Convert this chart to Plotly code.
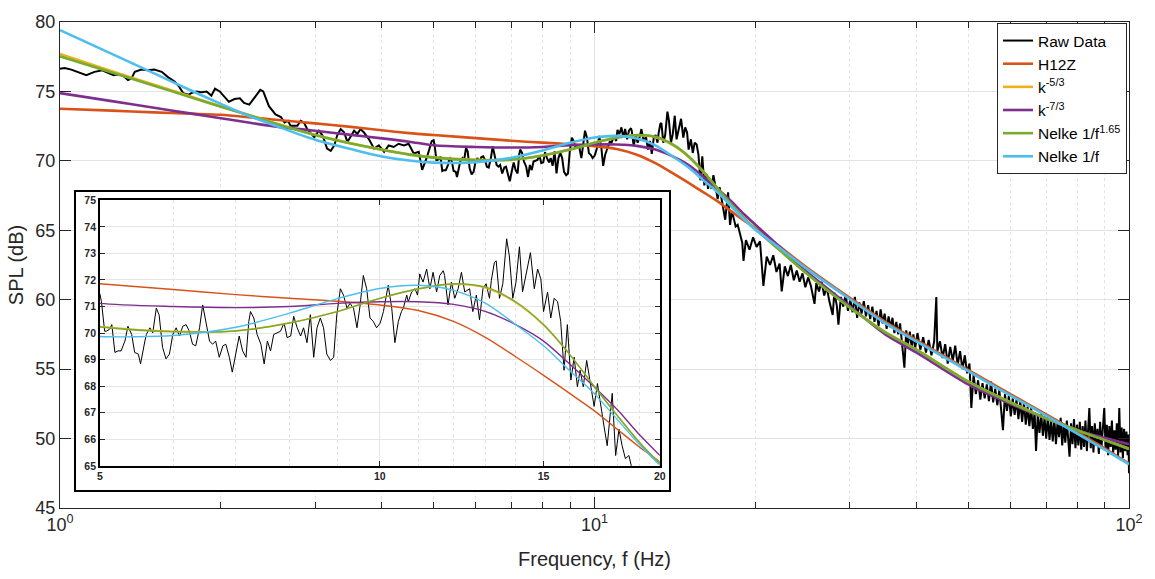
import plotly.graph_objects as go

# ---------------- data ----------------
raw_f = [
    1.00, 1.02, 1.05, 1.08, 1.12, 1.16, 1.20, 1.23, 1.26, 1.28, 1.31, 1.34, 1.36, 1.38, 1.42, 1.46,
    1.50, 1.55, 1.59, 1.64, 1.67, 1.70, 1.74, 1.76, 1.80, 1.84, 1.88, 1.92, 1.95, 1.99, 2.03, 2.07,
    2.12, 2.17, 2.21, 2.26, 2.31, 2.37, 2.40, 2.46, 2.53, 2.59, 2.63, 2.67, 2.70, 2.78, 2.82, 2.86,
    2.90, 2.95, 2.99, 3.05, 3.10, 3.16, 3.21, 3.26, 3.30, 3.35, 3.40, 3.45, 3.50, 3.55, 3.60, 3.65,
    3.70, 3.78, 3.87, 3.95, 4.04, 4.12, 4.21, 4.30, 4.40, 4.49, 4.59, 4.69, 4.76, 4.86, 4.96,
    5.00, 5.02, 5.06, 5.08, 5.12, 5.15, 5.19, 5.23, 5.27, 5.32, 5.36, 5.41, 5.45, 5.50, 5.53, 5.59,
    5.61, 5.66, 5.70, 5.75, 5.79, 5.84, 5.89, 5.94, 5.99, 6.04, 6.09, 6.14, 6.19, 6.24, 6.29, 6.34,
    6.40, 6.45, 6.50, 6.56, 6.61, 6.66, 6.72, 6.78, 6.83, 6.89, 6.94, 7.00, 7.06, 7.12, 7.18, 7.23,
    7.26, 7.32, 7.38, 7.45, 7.51, 7.57, 7.63, 7.69, 7.76, 7.82, 7.89, 7.95, 8.02, 8.08, 8.15, 8.22,
    8.28, 8.35, 8.42, 8.49, 8.56, 8.63, 8.70, 8.77, 8.85, 8.92, 8.99, 9.07, 9.14, 9.22, 9.29, 9.37,
    9.45, 9.52, 9.60, 9.68, 9.76, 9.84, 9.92,
    10.01, 10.09, 10.17, 10.21, 10.30, 10.38, 10.47, 10.55, 10.60, 10.69, 10.73, 10.82, 10.91, 10.98,
    11.04, 11.13, 11.23, 11.32, 11.41, 11.51, 11.60, 11.70, 11.74, 11.84, 11.94, 12.04, 12.14, 12.24,
    12.34, 12.49, 12.59, 12.70, 12.80, 12.91, 13.01, 13.12, 13.18, 13.28, 13.34, 13.45, 13.56, 13.69,
    13.78, 13.90, 14.01, 14.13, 14.24, 14.36, 14.52, 14.66, 14.78, 14.90, 15.00, 15.15, 15.27, 15.40,
    15.53, 15.65, 15.78, 15.91, 16.05, 16.18, 16.31, 16.42, 16.55, 16.69, 16.86, 17.00, 17.14, 17.28,
    17.42, 17.56, 17.78, 17.93, 18.08, 18.22, 18.37, 18.53, 18.68,
    18.9, 19.0, 19.2, 19.5, 19.8, 20.1, 20.4, 20.7, 21.0, 21.3, 21.6, 21.9, 22.2, 22.4, 22.7, 23.0,
    23.3, 23.6, 23.9, 24.2, 24.5, 24.8, 25.1, 25.4, 25.8, 26.0, 26.3, 26.6, 26.9, 27.2, 27.5, 27.9,
    28.1, 28.4, 28.6, 28.9, 29.2, 29.5, 29.8, 30.1, 30.4, 30.7, 31.0, 31.3, 31.6, 31.9, 32.2, 32.5,
    32.8, 33.1, 33.4, 33.7, 34.0, 34.3, 34.6, 34.9, 35.2, 35.5, 35.8, 36.1, 36.4, 36.7, 37.0, 37.3,
    37.6, 38.0, 38.3, 38.6, 38.9, 39.2, 39.5, 39.8,
    40.2, 40.7, 41.2, 41.7, 42.2, 42.7, 43.2, 43.6, 43.8, 44.3, 44.8, 45.3, 45.8, 46.3, 46.8, 47.3,
    47.8, 48.3, 48.8, 49.3, 49.8, 50.3, 50.7, 51.2, 51.7, 52.2, 52.7, 53.2, 53.7, 54.2, 54.7, 55.2,
    55.7, 56.2, 56.7, 57.2, 57.7, 58.1, 58.6, 59.1, 59.6, 60.1, 60.6, 61.1, 61.6, 62.1, 62.6, 63.1,
    63.6, 64.1, 64.6, 65.1, 65.6, 66.1, 66.6, 67.0, 67.5, 68.0, 68.5, 69.0, 69.5, 70.0, 70.5, 71.0,
    71.5, 72.0, 72.5, 73.0, 73.5, 74.0, 74.5, 75.0, 75.5, 76.0, 76.5, 77.0, 77.4, 77.9, 78.4, 78.9,
    79.4, 79.9, 80.4, 80.9, 81.4, 81.9, 82.4, 82.9, 83.4, 83.9, 84.3, 84.8, 85.3, 85.8, 86.3, 86.8,
    87.3, 87.8, 88.3, 88.8, 89.3, 89.9, 90.4, 90.9, 91.4, 91.9, 92.4, 92.9, 93.4, 93.9, 94.4, 94.9,
    95.4, 95.9, 96.4, 96.9, 97.4, 97.9, 98.4, 98.9, 99.4, 99.8, 100.0,
]
raw_db = [
    76.64, 76.69, 76.57, 76.41, 76.17, 76.41, 76.52, 76.34, 76.17, 76.22, 76.17, 75.82, 75.94, 76.41, 76.57, 76.52,
    76.57, 76.41, 76.05, 75.70, 75.35, 74.88, 74.76, 74.88, 75.00, 74.95, 75.00, 74.70, 75.20, 75.00, 74.64, 74.25,
    74.45, 74.50, 74.17, 74.05, 74.53, 75.11, 75.00, 73.94, 73.35, 73.16, 72.76, 72.88, 72.53, 72.53, 72.88, 72.76,
    72.29, 71.94, 71.70, 72.17, 71.82, 70.88, 70.72, 71.11, 71.82, 72.29, 72.06, 71.35, 71.82, 72.17, 71.94, 72.29,
    72.06, 71.59, 70.88, 71.11, 70.65, 71.11, 71.00, 71.23, 71.11, 71.23, 70.53, 70.65, 69.35, 70.29, 71.42,
    71.49, 71.18, 70.07, 70.07, 70.14, 70.32, 69.27, 69.33, 69.33, 69.70, 70.26, 69.95, 69.27, 69.21, 68.84, 69.70,
    69.95, 70.20, 70.01, 70.94, 70.69, 69.46, 69.03, 69.21, 69.95, 70.20, 69.89, 70.26, 70.32, 70.07, 69.58, 69.52,
    70.20, 71.06, 70.44, 69.70, 69.58, 69.70, 69.09, 69.52, 69.58, 69.09, 68.53, 69.21, 69.89, 69.33, 69.09, 70.44,
    70.81, 70.57, 69.95, 69.58, 68.84, 69.70, 69.33, 69.95, 70.01, 70.07, 70.38, 69.83, 69.89, 70.63, 70.20, 69.89,
    70.20, 69.64, 70.69, 69.09, 70.20, 70.57, 70.20, 69.21, 68.97, 69.09, 70.69, 71.67, 71.43, 70.94, 71.12, 70.94,
    70.20, 71.00, 72.17, 71.67, 70.57, 70.44, 70.20,
    70.38, 70.81, 71.43, 71.80, 70.94, 69.64, 70.44, 70.81, 70.94, 71.43, 71.18, 71.55, 71.67, 71.43,
    72.23, 71.92, 72.41, 71.67, 72.29, 71.55, 72.17, 72.35, 72.17, 71.06, 71.92, 71.31, 71.67, 72.29,
    71.55, 71.67, 70.81, 71.43, 70.50, 71.67, 71.86, 71.31, 71.98, 72.66, 72.72, 71.31, 71.86, 73.55,
    72.91, 71.31, 71.92, 73.25, 71.55, 72.17, 73.03, 71.67, 72.41, 72.04, 70.81, 71.55, 70.57, 71.31,
    71.18, 70.44, 68.60, 70.32, 68.23, 69.09, 67.98, 68.60, 67.98, 68.97, 68.10, 67.24, 68.10, 67.24,
    66.50, 65.76, 67.73, 65.39, 66.38, 65.76, 65.27, 65.39, 64.90,
    64.1, 62.8, 64.3, 63.6, 64.5, 63.8, 64.2, 61.0, 63.1, 62.5, 63.2, 62.0, 62.6, 60.6, 62.4, 61.7,
    62.5, 61.4, 62.1, 61.3, 61.9, 60.9, 61.6, 61.0, 59.7, 61.2, 60.6, 61.3, 60.3, 60.9, 59.9, 58.9,
    60.5, 59.6, 58.2, 60.2, 59.5, 60.4, 59.2, 60.0, 59.1, 60.2, 58.7, 59.8, 59.0, 59.9, 58.8, 59.6,
    58.6, 59.5, 58.4, 59.2, 58.1, 59.3, 58.3, 59.0, 57.9, 58.8, 58.0, 58.7, 57.6, 58.4, 57.5, 58.3,
    57.0, 55.1, 57.8, 56.8, 57.7, 56.6, 57.5, 56.5,
    57.6, 56.4, 57.3, 56.2, 57.1, 56.0, 57.0, 60.2, 56.3, 57.0, 55.8, 56.8, 55.4, 56.6, 55.6, 56.7,
    55.3, 56.3, 55.0, 56.0, 54.7, 55.4, 52.2, 54.6, 53.2, 54.2, 52.8, 54.0, 52.9, 53.9, 52.7, 54.1,
    52.6, 53.6, 52.4, 53.5, 51.9, 50.6, 53.2, 52.0, 53.1, 51.6, 52.9, 51.7, 52.8, 51.4, 52.7, 51.2,
    52.6, 51.0, 52.3, 50.9, 52.2, 50.7, 51.9, 49.1, 51.7, 50.4, 51.8, 50.2, 51.5, 50.0, 51.6, 49.9,
    51.3, 49.8, 51.4, 49.6, 51.2, 50.1, 51.5, 49.5, 51.0, 49.7, 51.3, 49.4, 48.7, 51.1, 49.6, 51.4,
    49.3, 51.0, 49.5, 51.2, 49.2, 50.9, 49.4, 51.3, 49.1, 50.8, 52.2, 49.3, 50.9, 49.0, 51.1, 49.5,
    50.7, 48.9, 51.2, 49.3, 50.8, 52.2, 49.2, 51.0, 48.8, 50.9, 49.4, 51.3, 48.9, 50.6, 49.2, 51.1,
    48.7, 52.2, 49.0, 50.8, 48.6, 50.7, 49.1, 50.5, 48.8, 50.3, 47.5,
]

curve_f = [1, 1.25, 1.5, 1.75, 2, 2.25, 2.5, 3, 3.5, 4, 4.5, 5, 6, 7, 8, 9, 10, 11, 12, 13, 14,
           15, 16, 17, 18, 19, 20, 22, 25, 30, 35, 40, 50, 60, 70, 80, 90, 100]
h12z = [73.75, 73.62, 73.49, 73.40, 73.32, 73.15, 72.98, 72.70, 72.45, 72.20, 72.00, 71.86, 71.64,
        71.45, 71.31, 71.20, 71.06, 70.85, 70.44, 69.83, 69.11, 68.41, 67.73, 67.08, 66.38, 65.72,
        65.15, 63.95, 62.30, 60.15, 58.40, 57.10, 54.95, 53.20, 51.75, 50.45, 49.30, 48.20]
k53 = [77.70, 76.45, 75.48, 74.65, 73.93, 73.32, 72.77, 71.88, 71.27, 70.82, 70.47, 70.25, 70.07,
       70.09, 70.39, 70.82, 71.31, 71.66, 71.84, 71.70, 71.15, 70.30, 69.20, 68.00, 66.90, 65.90,
       65.10, 63.72, 61.87, 59.47, 57.67, 56.42, 54.12, 52.62, 51.47, 50.62, 49.92, 49.27]
k73 = [74.88, 74.30, 73.82, 73.42, 73.07, 72.76, 72.50, 72.17, 71.87, 71.62, 71.38, 71.12, 71.00,
       70.96, 71.00, 71.12, 71.18, 71.18, 71.08, 70.81, 70.32, 69.70, 68.84, 67.98, 67.12, 66.19,
       65.40, 63.95, 62.00, 59.55, 57.50, 56.20, 53.90, 52.50, 51.45, 50.60, 50.05, 49.60]
nelke165 = [77.53, 76.36, 75.41, 74.60, 73.90, 73.30, 72.75, 71.87, 71.25, 70.80, 70.45, 70.23, 70.05,
            70.08, 70.38, 70.81, 71.31, 71.67, 71.86, 71.73, 71.18, 70.32, 69.20, 68.00, 66.90, 65.90,
            65.09, 63.70, 61.85, 59.45, 57.65, 56.40, 54.10, 52.60, 51.45, 50.60, 49.90, 49.25]
nelke1 = [79.41, 77.70, 76.30, 75.10, 74.10, 73.25, 72.60, 71.52, 70.85, 70.32, 70.02, 69.87, 69.91,
          70.22, 70.75, 71.30, 71.68, 71.80, 71.61, 71.12, 70.32, 69.52, 68.59, 67.73, 66.75, 65.82,
          65.03, 63.85, 62.20, 60.05, 58.30, 57.00, 54.85, 53.10, 51.65, 50.35, 49.20, 48.15]

series_names = ["H12Z", "k<sup>-5/3</sup>", "k<sup>-7/3</sup>", "Nelke 1/f<sup>1.65</sup>", "Nelke 1/f"]
series_vals = [h12z, k53, k73, nelke165, nelke1]
series_colors = ["#D95319", "#EDB120", "#7E2F8E", "#77AC30", "#4DBEEE"]

main_ticks = [1, 10, 100]
main_ticktext = ["10<sup>0</sup>", "10<sup>1</sup>", "10<sup>2</sup>"]
main_minor = [2, 3, 4, 5, 6, 7, 8, 9, 20, 30, 40, 50, 60, 70, 80, 90]
inset_ticks = [5, 10, 15, 20]
inset_minor = [6, 7, 8, 9, 11, 12, 13, 14, 16, 17, 18, 19]

FONT = "Liberation Sans, Arial, Helvetica, sans-serif"
AXC = "#262626"

fig = go.Figure()

# main traces
fig.add_trace(go.Scatter(x=raw_f, y=raw_db, mode="lines", name="Raw Data",
                         line=dict(color="black", width=2.0), xaxis="x", yaxis="y"))
for nm, vals, col in zip(series_names, series_vals, series_colors):
    fig.add_trace(go.Scatter(x=curve_f, y=vals, mode="lines", name=nm,
                             line=dict(color=col, width=2.6, shape="spline", smoothing=0.8),
                             xaxis="x", yaxis="y"))

# dummy subplot for the inset's white framed box
fig.add_trace(go.Scatter(x=[], y=[], xaxis="x2", yaxis="y2", showlegend=False, hoverinfo="skip"))

# inset traces
fig.add_trace(go.Scatter(x=raw_f, y=raw_db, mode="lines", showlegend=False,
                         line=dict(color="black", width=1.0), xaxis="x3", yaxis="y3"))
for nm, vals, col in zip(series_names, series_vals, series_colors):
    fig.add_trace(go.Scatter(x=curve_f, y=vals, mode="lines", showlegend=False,
                             line=dict(color=col, width=1.4, shape="spline", smoothing=0.8),
                             xaxis="x3", yaxis="y3"))

W, H = 1155, 579
L, R, T, B = 60, 22, 16, 67
pw, ph = W - L - R, H - T - B


def px_to_dom_x(a, b):
    return [(a - L) / pw, (b - L) / pw]


def px_to_dom_y(top, bottom):
    return [(H - B - bottom) / ph, (H - B - top) / ph]


fig.update_layout(
    width=W, height=H, autosize=False,
    margin=dict(l=L, r=R, t=T, b=B),
    paper_bgcolor="white", plot_bgcolor="white",
    font=dict(family=FONT, color=AXC),
    showlegend=True,
    legend=dict(x=(1131 - L) / pw, xanchor="right", y=(H - B - 17) / ph, yanchor="top",
                bgcolor="white", bordercolor=AXC, borderwidth=1,
                font=dict(size=15.5, color="#000000", family=FONT),
                tracegroupgap=0, itemwidth=30),
    xaxis=dict(type="log", range=[0, 2], domain=[0, 1], anchor="y",
               tickmode="array", tickvals=main_ticks, ticktext=main_ticktext,
               tickfont=dict(size=18, color=AXC),
               ticks="inside", ticklen=11, tickcolor=AXC,
               showline=True, linecolor=AXC, linewidth=1, mirror="ticks",
               showgrid=True, gridcolor="#e3e3e3", gridwidth=1, zeroline=False,
               minor=dict(tickmode="array", tickvals=main_minor, ticks="inside", ticklen=6,
                          tickcolor=AXC, showgrid=True, gridcolor="#e2e2e2", griddash="dot"),
               title=dict(text="Frequency, f (Hz)", font=dict(size=20, color=AXC), standoff=18)),
    yaxis=dict(range=[45, 80], domain=[0, 1], anchor="x", dtick=5, tick0=45,
               tickfont=dict(size=18, color=AXC),
               ticks="inside", ticklen=11, tickcolor=AXC,
               showline=True, linecolor=AXC, linewidth=1, mirror="ticks",
               showgrid=True, gridcolor="#e3e3e3", zeroline=False,
               title=dict(text="SPL (dB)", font=dict(size=20, color=AXC), standoff=6)),
    xaxis2=dict(domain=px_to_dom_x(76, 671), anchor="y2", range=[0, 1],
                showline=True, linecolor="black", linewidth=2, mirror=True,
                showgrid=False, zeroline=False, showticklabels=False, ticks=""),
    yaxis2=dict(domain=px_to_dom_y(190, 494), anchor="x2", range=[0, 1],
                showline=True, linecolor="black", linewidth=2, mirror=True,
                showgrid=False, zeroline=False, showticklabels=False, ticks=""),
    xaxis3=dict(type="log", range=[0.69897, 1.30103], domain=px_to_dom_x(100, 662), anchor="y3",
                tickmode="array", tickvals=inset_ticks, ticktext=[str(v) for v in inset_ticks],
                tickfont=dict(size=10.5, color=AXC, weight="bold"),
                ticks="inside", ticklen=5, tickcolor=AXC,
                showline=True, linecolor="black", linewidth=1.5, mirror="ticks",
                showgrid=True, gridcolor="#e6e6e6", zeroline=False,
                minor=dict(tickmode="array", tickvals=inset_minor, ticks="", showgrid=True,
                           gridcolor="#e0e0e0", griddash="dot")),
    yaxis3=dict(range=[65, 75], domain=px_to_dom_y(198, 469), anchor="x3", dtick=1, tick0=65,
                tickfont=dict(size=10.5, color=AXC, weight="bold"),
                ticks="inside", ticklen=5, tickcolor=AXC,
                showline=True, linecolor="black", linewidth=1.5, mirror="ticks",
                showgrid=True, gridcolor="#e6e6e6", zeroline=False),
)

fig.write_html("out.html")
